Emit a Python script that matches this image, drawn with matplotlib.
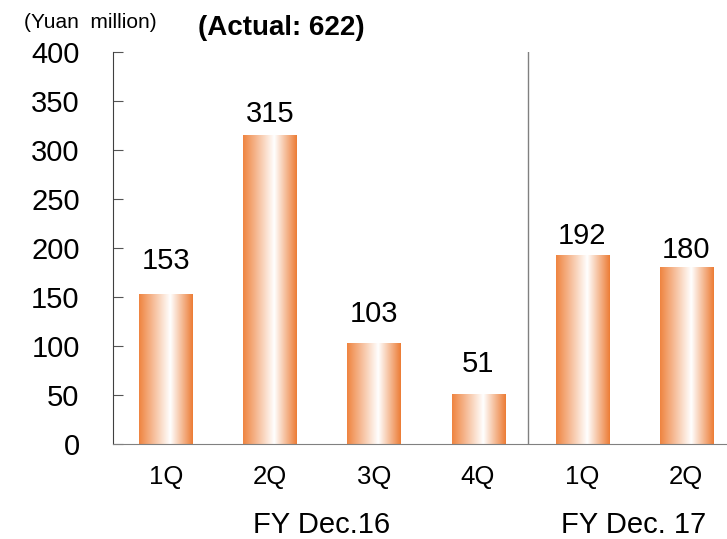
import matplotlib

matplotlib.use("Agg")

import matplotlib.pyplot as plt
import numpy as np
from matplotlib.colors import LinearSegmentedColormap

plt.rcParams["font.family"] = ["Liberation Sans", "DejaVu Sans"]

quarters = ["1Q", "2Q", "3Q", "4Q", "1Q", "2Q"]
values = [153, 315, 103, 51, 192, 180]
year_labels = ["FY Dec.16", "FY Dec. 17"]
year_groups = [[0, 1, 2, 3], [4, 5]]
unit_label = "(Yuan  million)"
note_label = "(Actual: 622)"

# layout only: how far each value label sits above its bar (points),
# the original deck didn't keep these uniform
label_lift = [18, 9.4, 15, 16, 8.6, 7.2]

fig = plt.figure(figsize=(7.27, 5.39), dpi=100)
ax = fig.add_axes([0.1554, 0.1763, 0.8446, 0.7272])

# orange -> white -> orange across each bar, white peak a bit right of centre
grad = LinearSegmentedColormap.from_list(
    "bar", [(0.0, "#EF8440"), (0.58, "#FFFFFF"), (1.0, "#EC7C35")]
)
strip = np.linspace(0, 1, 256).reshape(1, -1)
x = np.arange(len(values))
width = 0.51

for xi, v, lift in zip(x, values, label_lift):
    ax.imshow(
        strip,
        cmap=grad,
        aspect="auto",
        extent=(xi - width / 2, xi + width / 2, 0, v),
        zorder=2,
        interpolation="bilinear",
    )
    ax.annotate(
        f"{v}",
        (xi, v),
        xytext=(0, lift),
        textcoords="offset points",
        ha="center",
        va="baseline",
        fontsize=21,
    )

ax.set_xlim(-0.51, 5.394)
ax.set_ylim(0, 400)
ax.set_yticks(range(0, 401, 50))
ax.tick_params(axis="y", direction="in", length=7, labelsize=21, pad=24,
               color="#555555")
ax.set_xticks(x)
ax.set_xticklabels(quarters, fontsize=18.5)
ax.tick_params(axis="x", length=0, pad=15)

for s in ("top", "right"):
    ax.spines[s].set_visible(False)
ax.spines["left"].set_color("#404040")
ax.spines["bottom"].set_color("#808080")

# separator between the two fiscal years
ax.axvline(3.48, color="#808080", lw=1, zorder=1)

for label, grp in zip(year_labels, year_groups):
    ax.text(np.mean(grp), -0.228, label, transform=ax.get_xaxis_transform(),
            ha="center", va="baseline", fontsize=21)

fig.text(90 / 727, 1 - 22 / 539, unit_label, ha="center", va="center",
         fontsize=15)
fig.text(281 / 727, 1 - 28 / 539, note_label, ha="center", va="center",
         fontsize=20, fontweight="bold")

fig.savefig("out.png", dpi=100)
plt.close(fig)
